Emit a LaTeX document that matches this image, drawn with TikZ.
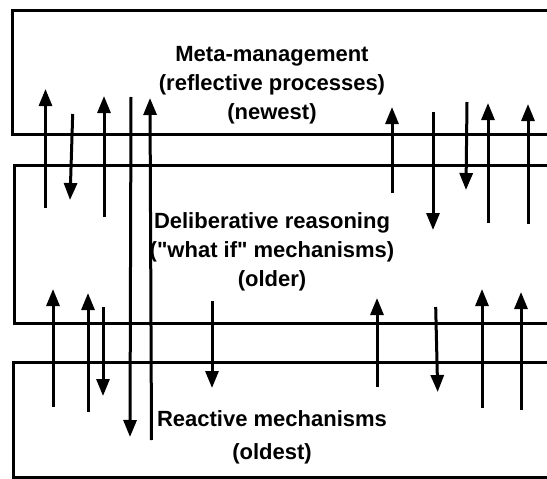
\documentclass[tikz,border=0pt]{standalone}
\usepackage{fontspec}
\setmainfont{Liberation Sans}
\usetikzlibrary{arrows.meta}

\begin{document}
\begin{tikzpicture}[x=1pt, y=-1pt, line width=3pt,
	layer/.style={align=center, font=\bfseries\fontsize{22}{29}\selectfont, inner sep=0pt},
	flow/.style={-{Triangle[width=13pt, length=17pt]}}]
	\clip (0, 0) rectangle (547, 479);

	% \drawlayer#top#bottom#left
	\def\drawlayer#1#2#3{
		\draw (560, #1) -- (#3, #1) -- (#3, #2) -- (560, #2);
	}

	% \drawflow#x1#y1#x2#y2 (tip at the second point)
	\def\drawflow#1#2#3#4{
		\draw[flow] (#1, #2) -- (#3, #4);
	}

	% layers
	\drawlayer{10}{134}{12}
	\drawlayer{165}{323}{14}
	\drawlayer{362}{477}{13}

	\node[layer] (meta) at (272, 85) {Meta-management\\(reflective processes)\\(newest)};
	\node[layer] (deliberative) at (272, 252) {Deliberative reasoning\\(\textquotedbl what if\textquotedbl\ mechanisms)\\(older)};
	\node[layer] (reactive) at (272, 437) {Reactive mechanisms\\[4pt](oldest)};

	% upwards
	\drawflow{45.5}{208}{45.5}{89}
	\drawflow{104}{217}{104}{96}
	\drawflow{151.5}{440}{150}{98}
	\drawflow{392}{193}{392}{107}
	\drawflow{488}{223}{488}{103}
	\drawflow{528}{224}{528}{104}
	\drawflow{53}{407}{53}{289}
	\drawflow{88}{412}{88}{293}
	\drawflow{377}{387}{377}{298}
	\drawflow{482}{408}{482}{289}
	\drawflow{521}{410}{521}{292}

	% downwards
	\drawflow{72.7}{114}{70}{200}
	\drawflow{131}{97}{130}{437}
	\drawflow{433}{112}{433}{230}
	\drawflow{467}{102}{466}{190}
	\drawflow{103}{307}{103}{396}
	\drawflow{212}{301}{212}{388}
	\drawflow{435.7}{307}{437.7}{392}
\end{tikzpicture}
\end{document}
